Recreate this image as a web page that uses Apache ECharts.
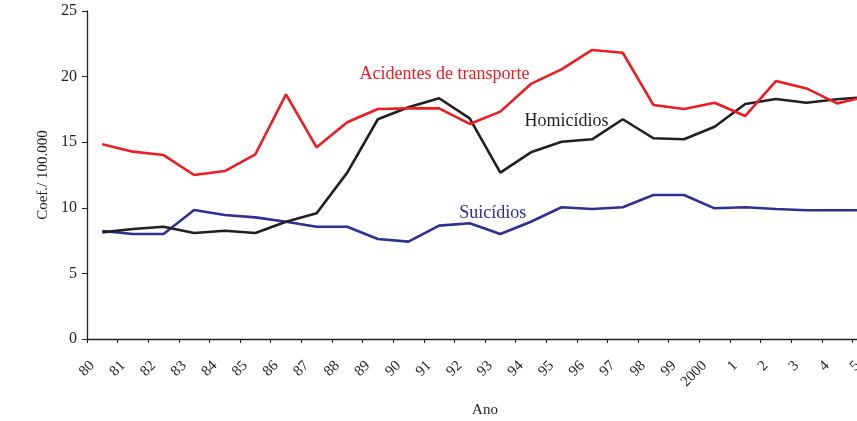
<!DOCTYPE html>
<html>
<head>
<meta charset="utf-8">
<script src="https://cdn.jsdelivr.net/npm/echarts@6/dist/echarts.min.js"></script>
<style>html,body{margin:0;padding:0;background:#fff;}#c{width:857px;height:421px;}</style>
</head>
<body>
<div id="c"></div>
<script>
var years = ['1980','1981','1982','1983','1984','1985','1986','1987','1988','1989','1990','1991','1992','1993','1994','1995','1996','1997','1998','1999','2000','2001','2002','2003','2004','2005'];
var tickLabels = ['80','81','82','83','84','85','86','87','88','89','90','91','92','93','94','95','96','97','98','99','2000','1','2','3','4','5'];
var transporte = [14.84,14.28,14.02,12.5,12.8,14.08,18.65,14.61,16.52,17.53,17.58,17.58,16.39,17.33,19.44,20.55,22.03,21.82,17.84,17.53,18.01,17.0,19.66,19.1,17.96,18.5];
var homicidios = [8.13,8.38,8.56,8.08,8.25,8.08,8.94,9.58,12.68,16.75,17.66,18.35,16.82,12.68,14.23,15.04,15.22,16.75,15.3,15.22,16.18,17.91,18.29,18.01,18.27,18.45];
var suicidios = [8.23,8.0,8.0,9.83,9.45,9.27,8.94,8.56,8.56,7.62,7.42,8.64,8.82,8.0,8.94,10.04,9.91,10.04,10.98,10.98,9.96,10.04,9.91,9.81,9.81,9.81];
var seriesNames = ['Acidentes de transporte','Homicídios','Suicídios'];
var seriesColors = ['#ed1c24','#231f20','#2e3192'];
var labelAt = [[11.68,20.2],[15.66,16.62],[13.25,9.6]];

function pts(arr){ return arr.map(function(v,i){ return [i+0.5, v]; }); }
var FONT = '"Liberation Serif", "DejaVu Serif", serif';
var allData = [transporte, homicidios, suicidios];
var series = allData.map(function(arr, k){
  return {
    name: seriesNames[k], type: 'line', data: pts(arr), symbol: 'none',
    lineStyle: {color: seriesColors[k], width: 2.6}, itemStyle:{color: seriesColors[k]},
    z: 3 - k, clip: true,
    markPoint: {
      symbol: 'circle', symbolSize: 1, itemStyle: {color: 'rgba(0,0,0,0)'},
      label: {show: true, position: 'inside', formatter: seriesNames[k], color: seriesColors[k], fontFamily: FONT, fontSize: 18},
      data: [{coord: labelAt[k], value: 0}]
    }
  };
});

var chart = echarts.init(document.getElementById('c'), null, {renderer: 'canvas'});
chart.setOption({
  animation: false,
  backgroundColor: '#fff',
  grid: {left: 87, top: 11, height: 328, width: 796, outerBoundsMode: 'none', containLabel: false},
  xAxis: {
    type: 'value', min: 0, max: 26, interval: 1,
    name: 'Ano', nameLocation: 'middle', nameGap: 64,
    nameTextStyle: {fontFamily: FONT, fontSize: 15, color: '#231f20'},
    axisLine: {lineStyle: {color: '#231f20', width: 1.3}},
    axisTick: {show: true, length: 4, lineStyle: {color: '#231f20'}},
    splitLine: {show: false},
    axisLabel: {rotate: 45, margin: 19, verticalAlign: 'top', fontFamily: FONT, fontSize: 15, color: '#231f20',
      formatter: function(v){ var i = Math.round(v); if (Math.abs(v - i) > 1e-6) return ''; return tickLabels[i] !== undefined ? tickLabels[i] : ''; }}
  },
  yAxis: {
    type: 'value', min: 0, max: 25, interval: 5,
    name: 'Coef./ 100.000', nameLocation: 'middle', nameGap: 35,
    nameTextStyle: {fontFamily: FONT, fontSize: 15, color: '#231f20'},
    axisLine: {show: true, lineStyle: {color: '#231f20', width: 1.3}},
    axisTick: {show: true, length: 5, lineStyle: {color: '#231f20'}},
    splitLine: {show: false},
    axisLabel: {margin: 10, fontFamily: FONT, fontSize: 16, color: '#231f20'}
  },
  series: series
});
</script>
</body>
</html>
